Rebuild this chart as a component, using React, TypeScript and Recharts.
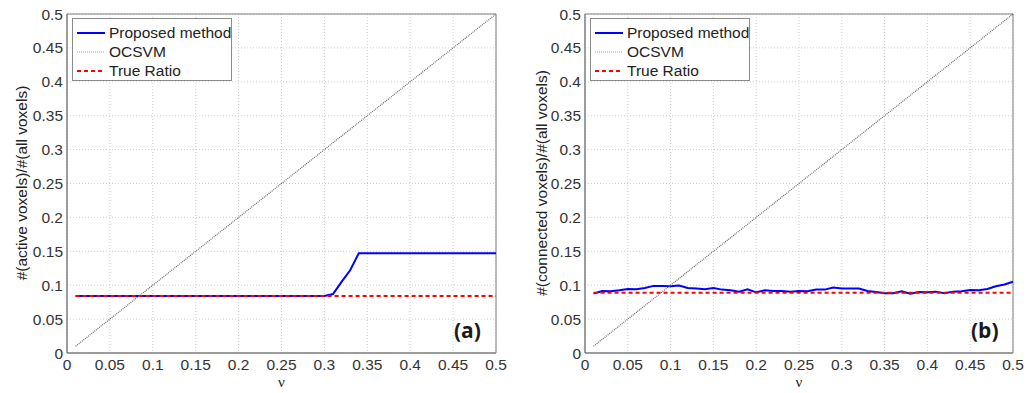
import React from "react";
import { LineChart, Line, XAxis, YAxis, CartesianGrid, ReferenceArea, Legend } from "recharts";

const nu = [
  0.01, 0.02, 0.03, 0.04, 0.05, 0.06, 0.07, 0.08, 0.09, 0.1,
  0.11, 0.12, 0.13, 0.14, 0.15, 0.16, 0.17, 0.18, 0.19, 0.2,
  0.21, 0.22, 0.23, 0.24, 0.25, 0.26, 0.27, 0.28, 0.29, 0.3,
  0.31, 0.32, 0.33, 0.34, 0.35, 0.36, 0.37, 0.38, 0.39, 0.4,
  0.41, 0.42, 0.43, 0.44, 0.45, 0.46, 0.47, 0.48, 0.49, 0.5,
];

const ocsvm = [
  0.01, 0.02, 0.03, 0.04, 0.05, 0.06, 0.07, 0.08, 0.09, 0.1,
  0.11, 0.12, 0.13, 0.14, 0.15, 0.16, 0.17, 0.18, 0.19, 0.2,
  0.21, 0.22, 0.23, 0.24, 0.25, 0.26, 0.27, 0.28, 0.29, 0.3,
  0.31, 0.32, 0.33, 0.34, 0.35, 0.36, 0.37, 0.38, 0.39, 0.4,
  0.41, 0.42, 0.43, 0.44, 0.45, 0.46, 0.47, 0.48, 0.49, 0.5,
];

const proposedA = [
  0.084, 0.084, 0.084, 0.084, 0.084, 0.084, 0.084, 0.084, 0.084, 0.084,
  0.084, 0.084, 0.084, 0.084, 0.084, 0.084, 0.084, 0.084, 0.084, 0.084,
  0.084, 0.084, 0.084, 0.084, 0.084, 0.084, 0.084, 0.084, 0.084, 0.084,
  0.087, 0.105, 0.122, 0.147, 0.147, 0.147, 0.147, 0.147, 0.147, 0.147,
  0.147, 0.147, 0.147, 0.147, 0.147, 0.147, 0.147, 0.147, 0.147, 0.147,
];

const proposedB = [
  0.0876, 0.0915, 0.091, 0.0925, 0.0945, 0.094, 0.096, 0.099, 0.099, 0.0985,
  0.0995, 0.096, 0.095, 0.094, 0.096, 0.0935, 0.0925, 0.0905, 0.094, 0.0895,
  0.0925, 0.0915, 0.0915, 0.0905, 0.0915, 0.091, 0.0935, 0.0935, 0.0965, 0.095,
  0.095, 0.095, 0.0915, 0.09, 0.088, 0.088, 0.091, 0.0875, 0.09, 0.0895,
  0.0905, 0.088, 0.0905, 0.091, 0.093, 0.0925, 0.0945, 0.0985, 0.101, 0.105,
];

const trueRatioA = 0.084;
const trueRatioB = 0.089;

const ticks = [0, 0.05, 0.1, 0.15, 0.2, 0.25, 0.3, 0.35, 0.4, 0.45, 0.5];
const seriesNames = ["Proposed method", "OCSVM", "True Ratio"];

const rowsA = nu.map((v, i) => ({ nu: v, proposed: proposedA[i], ocsvm: ocsvm[i], trueRatio: trueRatioA }));
const rowsB = nu.map((v, i) => ({ nu: v, proposed: proposedB[i], ocsvm: ocsvm[i], trueRatio: trueRatioB }));

const FONT = "'Liberation Sans', Arial, sans-serif";
const tickStyle = { fontSize: 15.5, fill: "#333", fontFamily: FONT };

const LegendBox = () => (
  <div
    style={{
      width: 160,
      height: 63,
      boxSizing: "border-box",
      border: "1px solid #8a8a8a",
      background: "#fff",
      fontFamily: FONT,
      fontSize: 15.5,
      color: "#222",
      position: "relative",
    }}
  >
    {seriesNames.map((name, i) => (
      <div key={name} style={{ position: "absolute", left: 4, top: 4 + i * 19, height: 19, display: "flex", alignItems: "center" }}>
        <svg width={28} height={6} style={{ display: "block" }}>
          {i === 0 && <line x1={0} y1={3} x2={28} y2={3} stroke="#0000ff" strokeWidth={2} />}
          {i === 1 && <line x1={0} y1={3} x2={28} y2={3} stroke="#999" strokeWidth={1.2} strokeDasharray="1 1" />}
          {i === 2 && <line x1={0} y1={3} x2={28} y2={3} stroke="#ff0000" strokeWidth={2} strokeDasharray="4 3" />}
        </svg>
        <span style={{ marginLeft: 4, lineHeight: "19px", whiteSpace: "nowrap" }}>{name}</span>
      </div>
    ))}
  </div>
);

function Panel({ rows, left, width, plotLeft, marginRight, yTitle, tag, titleX }: any) {
  return (
    <div style={{ position: "absolute", left, top: 0, width, height: 393 }}>
      <LineChart width={width} height={393} data={rows} margin={{ top: 14, right: marginRight, bottom: 0, left: 0 }}>
        <CartesianGrid stroke="#cfcfcf" strokeDasharray="1 2" horizontal vertical />
        <XAxis
          dataKey="nu"
          type="number"
          domain={[0, 0.5]}
          ticks={ticks}
          height={40}
          tickSize={0}
          tickMargin={6}
          tick={tickStyle}
          axisLine={{ stroke: "#7f7f7f" }}
          interval={0}
        />
        <YAxis
          type="number"
          domain={[0, 0.5]}
          ticks={ticks}
          width={plotLeft}
          tickSize={0}
          tickMargin={4}
          tick={tickStyle}
          axisLine={{ stroke: "#7f7f7f" }}
          interval={0}
        />
        <ReferenceArea x1={0} x2={0.5} y1={0} y2={0.5} fill="none" stroke="#7f7f7f" strokeWidth={1} />
        <Line type="linear" dataKey="proposed" name={seriesNames[0]} stroke="#0000ff" strokeWidth={2} dot={false} isAnimationActive={false} />
        <Line type="linear" dataKey="ocsvm" name={seriesNames[1]} stroke="#666" strokeWidth={1.2} strokeDasharray="1 1" dot={false} isAnimationActive={false} />
        <Line type="linear" dataKey="trueRatio" name={seriesNames[2]} stroke="#ff0000" strokeWidth={2} strokeDasharray="4 3" dot={false} isAnimationActive={false} />
        <Legend
          layout="horizontal"
          verticalAlign="middle"
          align="center"
          content={() => <LegendBox />}
          wrapperStyle={{ position: "absolute", left: plotLeft + 5, top: 18, width: 160, height: 63 }}
        />
      </LineChart>
      <div
        style={{
          position: "absolute",
          left: titleX,
          top: 183,
          transform: "translate(-50%, -50%) rotate(-90deg)",
          fontFamily: FONT,
          fontSize: 15.5,
          color: "#222",
          whiteSpace: "nowrap",
        }}
      >
        {yTitle}
      </div>
      <div
        style={{
          position: "absolute",
          left: plotLeft + (width - plotLeft - marginRight) / 2,
          top: 382,
          transform: "translate(-50%, -50%)",
          fontFamily: "'Liberation Serif', 'DejaVu Serif', serif",
          fontSize: 15,
          color: "#222",
        }}
      >
        ν
      </div>
      <div
        style={{
          position: "absolute",
          left: width - marginRight - 42,
          top: 316,
          fontFamily: "'Open Sans', 'Liberation Sans', sans-serif",
          fontWeight: 700,
          fontSize: 21,
          color: "#1a1a1a",
        }}
      >
        {tag}
      </div>
    </div>
  );
}

export default function App() {
  return (
    <div style={{ position: "absolute", left: 0, top: 0, width: 1033, height: 393, background: "#fff", overflow: "hidden" }}>
      <Panel rows={rowsA} left={0} width={520} plotLeft={67} marginRight={24} yTitle="#(active voxels)/#(all voxels)" tag="(a)" titleX={22} />
      <Panel rows={rowsB} left={518} width={515} plotLeft={67} marginRight={20} yTitle="#(connected voxels)/#(all voxels)" tag="(b)" titleX={24} />
    </div>
  );
}
